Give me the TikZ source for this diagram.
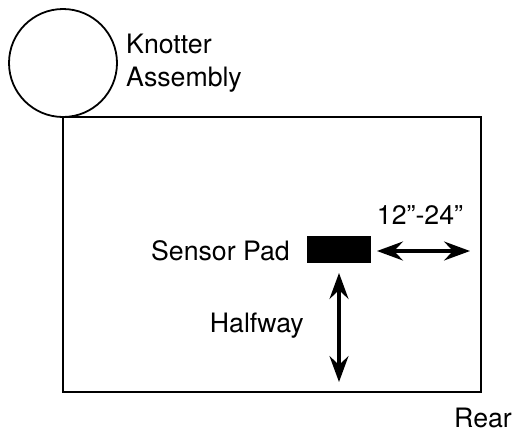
\documentclass[tikz,border=0pt]{standalone}
\usepackage{fontspec}
\setmainfont{TeX Gyre Heros}
\usetikzlibrary{arrows.meta}

\tikzset{
  lbl/.style={font=\fontsize{26.8}{33}\selectfont, inner sep=0pt},
  twoway/.style={{Stealth[length=26bp,width=19bp,inset=9bp]}-{Stealth[length=26bp,width=19bp,inset=9bp]}, line width=3.2bp},
}

\begin{document}
\begin{tikzpicture}[x=1bp,y=-1bp]
\useasboundingbox (0,0) rectangle (516,432);
\draw[line width=1.8bp] (63,63) circle (54) coordinate (knotter);
\draw[line width=1.8bp] (63,117) rectangle (481,392);
\node[lbl, anchor=base west, align=left] (knottertext) at (126,86) {Knotter\\Assembly};
\node[fill=black, minimum width=64bp, minimum height=27bp, inner sep=0pt] (pad) at (339,249.5) {};
\node[lbl, anchor=east] (padtext) at (290,251) {Sensor Pad};
\coordinate (hleft) at (377,251);
\coordinate (hright) at (470,251);
\draw[twoway] (hleft) -- (hright);
\node[lbl] (range) at (420,215) {12”-24”};
\coordinate (vtop) at (339,273);
\coordinate (vbot) at (339,382);
\draw[twoway] (vtop) -- (vbot);
\node[lbl, anchor=east] (half) at (304,326) {Halfway};
\node[lbl, anchor=base east] (rear) at (512,427) {Rear};
\end{tikzpicture}
\end{document}
